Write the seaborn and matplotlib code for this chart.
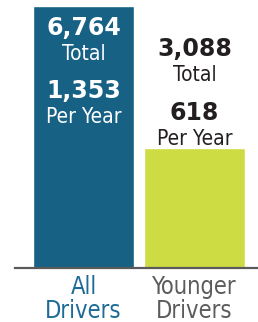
import matplotlib
matplotlib.use("Agg")
import matplotlib.pyplot as plt
import seaborn as sns
import pandas as pd

categories = ["All\nDrivers", "Younger\nDrivers"]
totals = [6764, 3088]
per_year = [1353, 618]
total_labels = ["6,764", "3,088"]
per_year_labels = ["1,353", "618"]

bar_colors = ["#176185", "#cedc43"]
label_colors = ["#1d6b96", "#5c5c5c"]
text_colors = ["white", "#231f20"]

sns.set_theme(style="white")
plt.rcParams["font.family"] = ["DejaVu Sans"]

df = pd.DataFrame({"cat": categories, "total": totals})

fig = plt.figure(figsize=(2.58, 3.22), dpi=100)
ax = fig.add_axes([15 / 258, (322 - 268) / 322, 243 / 258, 268 / 322])
sns.barplot(data=df, x="cat", y="total", hue="cat", palette=bar_colors,
            width=0.91, legend=False, ax=ax, saturation=1)

ax.set_xlim(-0.617, 1.572)
ax.set_ylim(0, 6919)
for s in ["top", "left", "right"]:
    ax.spines[s].set_visible(False)
ax.spines["bottom"].set_color("#5a5a5a")
ax.spines["bottom"].set_linewidth(1.6)
ax.set_yticks([])
ax.set_xlabel("")
ax.set_ylabel("")
ax.tick_params(axis="x", length=0, pad=5)
ax.set_xticks([0, 1])
ax.set_xticklabels(categories, fontsize=17, linespacing=1.0,
                   fontstretch="condensed")
for lbl, c in zip(ax.get_xticklabels(), label_colors):
    lbl.set_color(c)
    lbl.set_fontstretch("condensed")

bold = dict(family=["DejaVu Sans"], fontweight="bold", fontsize=17)
reg = dict(fontsize=15, fontstretch="condensed")

# offsets (pixels) relative to bar top
offsets = [[-29, -54, -92, -117], [92, 67, 28, 3]]
for i in range(2):
    texts = [(total_labels[i], bold), ("Total", reg),
             (per_year_labels[i], bold), ("Per Year", reg)]
    for (t, style), off in zip(texts, offsets[i]):
        ax.annotate(t, xy=(i, totals[i]), xytext=(0, off),
                    textcoords="offset pixels", ha="center", va="baseline",
                    color=text_colors[i], **style)

fig.savefig("out.png", dpi=100)
